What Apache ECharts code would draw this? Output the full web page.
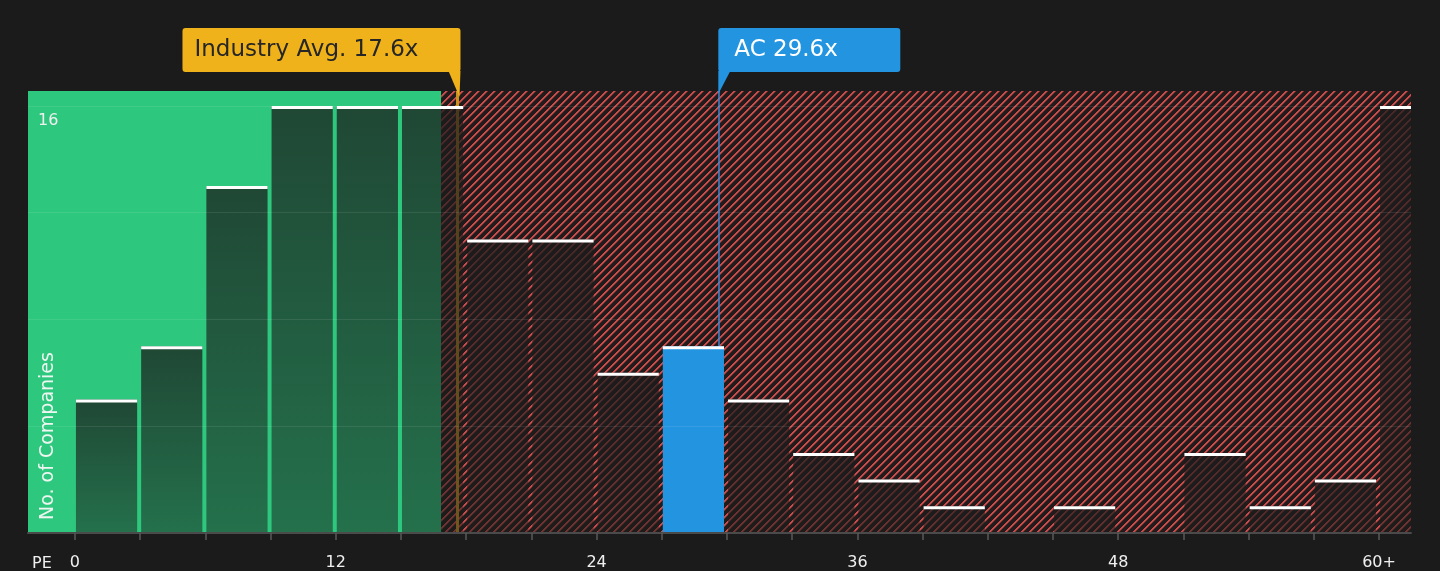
<!DOCTYPE html>
<html>
<head>
<meta charset="UTF-8">
<title>PE distribution</title>
<script src="https://cdn.jsdelivr.net/npm/echarts@6.0.0/dist/echarts.min.js"></script>
<style>
  html, body { margin: 0; padding: 0; background: #1b1b1b; }
  #main { width: 1440px; height: 571px; }
</style>
</head>
<body>
<div id="main"></div>
<script>
// histogram bins (PE), company counts per bin
var binStart = [0, 3, 6, 9, 12, 15, 18, 21, 24, 27, 30, 33, 36, 39, 42, 45, 48, 51, 54, 57, 60];
var binEnd   = [3, 6, 9, 12, 15, 18, 21, 24, 27, 30, 33, 36, 39, 42, 45, 48, 51, 54, 57, 60, 63];
var counts   = [5, 7, 13, 16, 16, 16, 11, 11, 6, 7, 5, 3, 2, 1, 0, 1, 0, 3, 1, 2, 16];
var tickValues  = [0, 3, 6, 9, 12, 15, 18, 21, 24, 27, 30, 33, 36, 39, 42, 45, 48, 51, 54, 57, 60];
var labelValues = [0, 12, 24, 36, 48, 60];
var yLabelValues = [16];

var industryAvg = 17.6;
var companyPE = 29.6;
var fairEdge = 16.85;   // where green (cheaper) zone ends
var acIndex = 9;        // bin holding AC

var FONT = 'DejaVu Sans';

// crisp hatch tile for the expensive zone
function makeHatch() {
    var s = 8;
    var c = document.createElement('canvas');
    c.width = s; c.height = s;
    var g = c.getContext('2d');
    g.fillStyle = '#211b1b';
    g.fillRect(0, 0, s, s);
    for (var y = 0; y < s; y++) {
        for (var x = 0; x < s; x++) {
            var k = (x + y) % s;
            if (k < 2) { g.fillStyle = '#cc4b4b'; g.fillRect(x, y, 1, 1); }
            else if (k === 2) { g.fillStyle = '#773333'; g.fillRect(x, y, 1, 1); }
        }
    }
    return c;
}
var hatch = { image: makeHatch(), repeat: 'repeat' };

var barData = [];
for (var i = 0; i < counts.length; i++) {
    barData.push([binStart[i], binEnd[i], counts[i]]);
}

var myChart = echarts.init(document.getElementById('main'));

var option = {
    backgroundColor: '#1b1b1b',
    animation: false,
    textStyle: { fontFamily: FONT },
    grid: { left: 28, right: 29, top: 91, bottom: 37 },
    xAxis: {
        type: 'value',
        min: -2.16,
        max: 61.47,
        z: 3,
        splitLine: { show: false },
        axisLine: { show: true, onZero: false, lineStyle: { color: '#4a4a4a', width: 2 } },
        axisTick: { show: true, length: 7, customValues: tickValues, lineStyle: { color: '#5a5a5a', width: 1.5 } },
        axisLabel: {
            customValues: labelValues,
            margin: 22,
            color: '#f0f0f0',
            fontSize: 16,
            fontFamily: FONT,
            formatter: function (v) { return v === 60 ? '60+' : String(v); }
        }
    },
    yAxis: {
        type: 'value',
        min: 0,
        max: 16.56,
        interval: 4,
        z: 3,
        axisLine: { show: false },
        axisTick: { show: false },
        splitLine: { show: true, showMaxLine: false, lineStyle: { color: 'rgba(255,255,255,0.09)', width: 1 } },
        axisLabel: {
            inside: true,
            customValues: yLabelValues,
            margin: 10,
            verticalAlign: 'top',
            padding: [7, 0, 0, 0],
            color: '#f0f0f0',
            fontSize: 16,
            fontFamily: FONT
        }
    },
    series: [{
        // zone backgrounds
        type: 'custom',
        z: -1,
        silent: true,
        data: [[0]],
        renderItem: function (params, api) {
            var cs = params.coordSys;
            var edge = api.coord([fairEdge, 0])[0];
            return {
                type: 'group',
                children: [{
                    type: 'rect',
                    shape: { x: cs.x, y: cs.y, width: edge - cs.x, height: cs.height },
                    style: { fill: '#2dc77d' }
                }, {
                    type: 'rect',
                    shape: { x: edge, y: cs.y, width: cs.x + cs.width - edge, height: cs.height },
                    style: { fill: hatch }
                }]
            };
        },
        markLine: {
            silent: true,
            z: 1,
            symbol: 'none',
            label: { show: false },
            data: [
                { xAxis: industryAvg, lineStyle: { color: '#c8921f', width: 3, type: 'solid' } },
                { xAxis: companyPE, lineStyle: { color: '#3f86d0', width: 1.5, type: 'solid' } }
            ]
        }
    }, {
        // histogram bars
        type: 'custom',
        z: 2,
        clip: true,
        data: barData,
        encode: { x: [0, 1], y: 2 },
        renderItem: function (params, api) {
            var v = api.value(2);
            if (!v) return { type: 'group', children: [] };
            var p0 = api.coord([api.value(0), v]);
            var p1 = api.coord([api.value(1), 0]);
            var left = p0[0] + 1, right = p1[0] - 3;
            var top = p0[1], bottom = p1[1];
            var isAC = params.dataIndex === acIndex;
            var fill = isAC ? '#2394e0' : new echarts.graphic.LinearGradient(0, 0, 0, 1, [
                { offset: 0, color: 'rgba(27,27,27,0.74)' },
                { offset: 1, color: 'rgba(27,27,27,0.5)' }
            ]);
            return {
                type: 'group',
                children: [{
                    type: 'rect',
                    shape: { x: left, y: top, width: right - left, height: bottom - top },
                    style: { fill: fill }
                }, {
                    type: 'rect',
                    shape: { x: left, y: top, width: right - left, height: 3 },
                    style: { fill: '#ffffff' }
                }]
            };
        }
    }]
};

myChart.setOption(option);

function drawLabels() {
    var ix = myChart.convertToPixel({ xAxisIndex: 0 }, industryAvg);
    var ax = myChart.convertToPixel({ xAxisIndex: 0 }, companyPE);
    myChart.setOption({
        graphic: [
            {
                type: 'rect', z: 10,
                shape: { x: ix + 3 - 278, y: 28, width: 278, height: 44, r: 3 },
                style: { fill: '#efb21b' }
            },
            {
                type: 'polygon', z: 10,
                shape: { points: [[ix - 9, 71], [ix + 3, 71], [ix + 2, 97]] },
                style: { fill: '#efb21b' }
            },
            {
                type: 'text', z: 11,
                x: ix + 3 - 278 + 12, y: 50,
                style: { text: 'Industry Avg. 17.6x', fill: '#262626', font: '23px "DejaVu Sans"', verticalAlign: 'middle', align: 'left' }
            },
            {
                type: 'rect', z: 10,
                shape: { x: ax, y: 28, width: 182, height: 44, r: 3 },
                style: { fill: '#2394e0' }
            },
            {
                type: 'polygon', z: 10,
                shape: { points: [[ax, 71], [ax + 12, 71], [ax, 94]] },
                style: { fill: '#2394e0' }
            },
            {
                type: 'text', z: 11,
                x: ax + 16, y: 50,
                style: { text: 'AC 29.6x', fill: '#ffffff', font: '23px "DejaVu Sans"', verticalAlign: 'middle', align: 'left' }
            },
            {
                type: 'text', z: 11,
                x: 32, y: 564,
                style: { text: 'PE', fill: '#f0f0f0', font: '16px "DejaVu Sans"', verticalAlign: 'middle', align: 'left' }
            },
            {
                type: 'text', z: 11,
                x: 48, y: 520, rotation: Math.PI / 2,
                style: { text: 'No. of Companies', fill: '#eef6f1', font: '19px "DejaVu Sans"', verticalAlign: 'middle', align: 'left' }
            }
        ]
    });
}
drawLabels();
window.onresize = function () { myChart.resize(); drawLabels(); };
</script>
</body>
</html>
